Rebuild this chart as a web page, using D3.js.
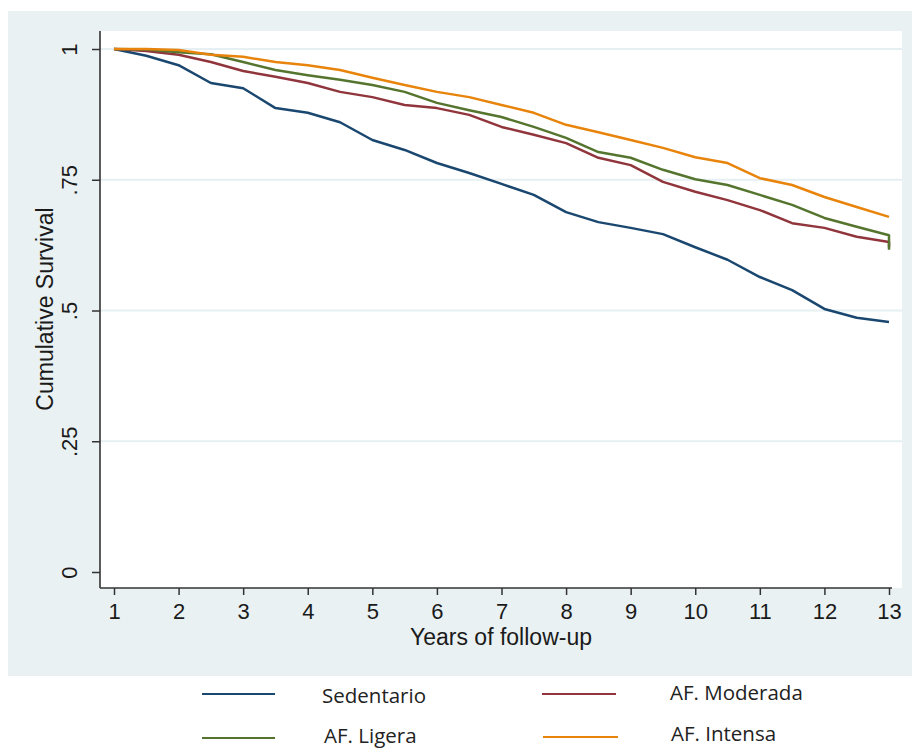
<!DOCTYPE html>
<html>
<head>
<meta charset="utf-8">
<script src="https://cdn.jsdelivr.net/npm/d3@7"></script>
<style>
  body { margin: 0; background: #fff; }
  svg text { font-family: "Liberation Sans", Arial, sans-serif; fill: #1a1a1a; }
  .legend text { font-family: "Open Sans", Lato, sans-serif; fill: #222; }
</style>
</head>
<body>
<svg id="chart" width="912" height="749"></svg>
<script>
// data (half-year steps, last point repeated for end drop)
var years = [1, 1.5, 2, 2.5, 3, 3.5, 4, 4.5, 5, 5.5, 6, 6.5, 7, 7.5, 8, 8.5, 9, 9.5, 10, 10.5, 11, 11.5, 12, 12.5, 13, 13];
var sedentario = [1, 0.987, 0.969, 0.935, 0.925, 0.887, 0.878, 0.860, 0.826, 0.807, 0.782, 0.763, 0.742, 0.721, 0.688, 0.669, 0.658, 0.646, 0.621, 0.597, 0.564, 0.539, 0.503, 0.486, 0.478, 0.478];
var moderada = [1, 0.996, 0.989, 0.975, 0.958, 0.947, 0.935, 0.918, 0.908, 0.893, 0.887, 0.874, 0.851, 0.836, 0.820, 0.792, 0.778, 0.746, 0.727, 0.711, 0.692, 0.667, 0.658, 0.641, 0.631, 0.621];
var ligera = [1, 0.999, 0.994, 0.990, 0.975, 0.960, 0.950, 0.941, 0.931, 0.918, 0.897, 0.883, 0.870, 0.851, 0.830, 0.803, 0.792, 0.769, 0.751, 0.740, 0.721, 0.702, 0.677, 0.660, 0.644, 0.616];
var intensa = [1, 1, 0.998, 0.989, 0.985, 0.975, 0.969, 0.960, 0.945, 0.931, 0.918, 0.908, 0.893, 0.878, 0.855, 0.841, 0.826, 0.811, 0.793, 0.782, 0.753, 0.740, 0.717, 0.698, 0.679, 0.679];

var xTicks = [1, 2, 3, 4, 5, 6, 7, 8, 9, 10, 11, 12, 13];
var yTicks = [0, 0.25, 0.5, 0.75, 1];
var yTickLabels = ["0", ".25", ".5", ".75", "1"];

var seriesNames = ["Sedentario", "AF. Moderada", "AF. Ligera", "AF. Intensa"];
var seriesColors = ["#1a476f", "#90353b", "#55752f", "#e8840c"];

var svg = d3.select("#chart");

// outer graph region
svg.append("rect")
    .attr("x", 8).attr("y", 11)
    .attr("width", 904).attr("height", 665)
    .attr("fill", "#eaf1f3");

// plot region
var plot = { left: 100, top: 31, right: 902, bottom: 588 };
svg.append("rect")
    .attr("x", plot.left).attr("y", plot.top)
    .attr("width", plot.right - plot.left).attr("height", plot.bottom - plot.top)
    .attr("fill", "#fff");

var x = d3.scaleLinear().domain([1, 13]).range([114, 889]);
var y = d3.scaleLinear().domain([0, 1]).range([572, 49]);

// gridlines
svg.append("g")
    .selectAll("line")
    .data(yTicks.filter(function(d) { return d > 0; }))
    .enter()
    .append("line")
    .attr("x1", plot.left).attr("x2", plot.right)
    .attr("y1", function(d) { return y(d); })
    .attr("y2", function(d) { return y(d); })
    .attr("stroke", "#e6eff1")
    .attr("stroke-width", 2);

// curves
var line = d3.line()
    .x(function(d) { return x(d[0]); })
    .y(function(d) { return y(d[1]); });

var allSeries = [sedentario, moderada, ligera, intensa];
allSeries.forEach(function(vals, i) {
    var pts = years.map(function(yr, j) { return [yr, vals[j]]; });
    svg.append("path")
        .datum(pts)
        .attr("d", line)
        .attr("fill", "none")
        .attr("stroke", seriesColors[i])
        .attr("stroke-width", 2.5)
        .attr("stroke-linejoin", "round");
});

// y axis
var yAxis = d3.axisLeft(y)
    .tickValues(yTicks)
    .tickFormat(function(d, i) { return yTickLabels[i]; })
    .tickSize(8)
    .tickPadding(0);
var gy = svg.append("g").attr("transform", "translate(" + plot.left + ",0)").call(yAxis);
gy.select(".domain").remove();
gy.selectAll(".tick line").attr("stroke", "#333").attr("stroke-width", 1.5);
gy.selectAll(".tick text")
    .attr("x", 0).attr("dy", null)
    .attr("text-anchor", "middle")
    .attr("transform", "translate(-23,0) rotate(-90)")
    .style("font-size", "22px")
    .style("font-family", "'Liberation Sans', Arial, sans-serif")
    .attr("fill", "#1a1a1a");
svg.append("line")
    .attr("x1", plot.left).attr("x2", plot.left)
    .attr("y1", plot.top).attr("y2", plot.bottom)
    .attr("stroke", "#333").attr("stroke-width", 1.6);

// x axis
var xAxis = d3.axisBottom(x)
    .tickValues(xTicks)
    .tickSize(7)
    .tickPadding(10);
var gx = svg.append("g").attr("transform", "translate(0," + plot.bottom + ")").call(xAxis);
gx.select(".domain").remove();
gx.selectAll(".tick line").attr("stroke", "#333").attr("stroke-width", 1.5);
gx.selectAll(".tick text")
    .attr("y", 31).attr("dy", null)
    .style("font-size", "22px")
    .style("font-family", "'Liberation Sans', Arial, sans-serif")
    .attr("fill", "#1a1a1a");
svg.append("line")
    .attr("x1", plot.left).attr("x2", 892)
    .attr("y1", plot.bottom).attr("y2", plot.bottom)
    .attr("stroke", "#333").attr("stroke-width", 1.6);

// axis titles
svg.append("text")
    .attr("transform", "translate(53,309) rotate(-90)")
    .attr("text-anchor", "middle")
    .style("font-size", "23px")
    .text("Cumulative Survival");
svg.append("text")
    .attr("x", 501).attr("y", 645)
    .attr("text-anchor", "middle")
    .style("font-size", "23px")
    .text("Years of follow-up");

// legend
var legendLines = [
    { x1: 202, x2: 275, ly: 694, tx: 322, ty: 703 },
    { x1: 542, x2: 616, ly: 694, tx: 670, ty: 700 },
    { x1: 202, x2: 275, ly: 738, tx: 324, ty: 743 },
    { x1: 543, x2: 618, ly: 737, tx: 671, ty: 741 }
];
var legend = svg.append("g").attr("class", "legend");
legendLines.forEach(function(p, i) {
    legend.append("line")
        .attr("x1", p.x1).attr("x2", p.x2)
        .attr("y1", p.ly).attr("y2", p.ly)
        .attr("stroke", seriesColors[i])
        .attr("stroke-width", 2);
    legend.append("text")
        .attr("x", p.tx).attr("y", p.ty)
        .style("font-size", "20.5px")
        .text(seriesNames[i]);
});
</script>
</body>
</html>
